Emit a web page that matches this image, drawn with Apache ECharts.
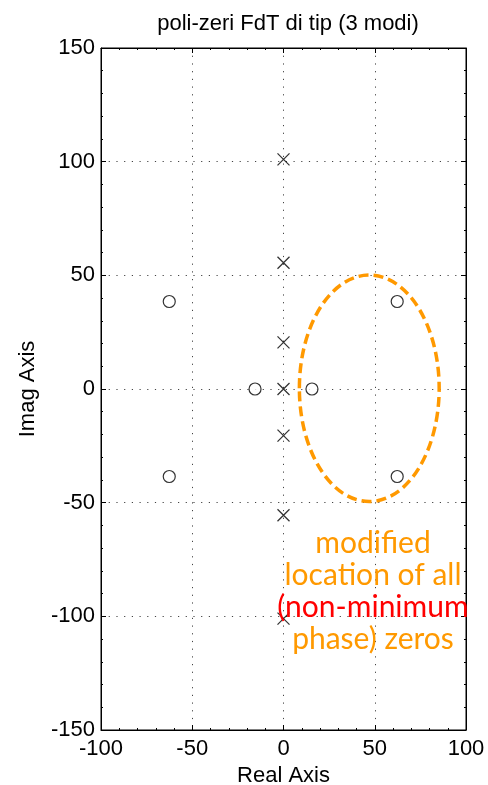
<!DOCTYPE html>
<html>
<head>
<meta charset="utf-8">
<script src="https://cdn.jsdelivr.net/npm/echarts@6/dist/echarts.min.js"></script>
<style>
  html, body { margin: 0; padding: 0; background: #fff; }
  #chart { width: 488px; height: 785px; }
</style>
</head>
<body>
<div id="chart"></div>
<script>
// poles (x) and zeros (o) in the complex plane
const poleRe = [0, 0, 0, 0, 0, 0, 0];
const poleIm = [101, 55.5, 20.5, 0, -20.5, -55.5, -101];
const zeroRe = [-62.6, -62.6, -15.6, 15.6, 62.3, 62.3];
const zeroIm = [38.5, -38.5, 0, 0, 38.5, -38.5];

// dashed ellipse round the modified zeros: [centre, radius]
const ellipseRe = [47, 38.3];
const ellipseIm = [0.3, 49.8];

const xRange = [-100, 100, 50];
const yRange = [-150, 150, 50];

const titleText = 'poli-zeri FdT di tip (3 modi)';
const noteLines = ['modified', 'location of all', '(non-minimum', 'phase) zeros'];
const noteColors = ['#ff9900', '#ff9900', '#ff0000', '#ff9900'];

const chart = echarts.init(document.getElementById('chart'));

const font = 'Liberation Sans, Arial, Helvetica, sans-serif';
const tickLabel = { fontFamily: font, fontSize: 22, color: '#000' };
const nameStyle = { fontFamily: font, fontSize: 22, color: '#000' };

const grid = {
    left: 101, right: 22, top: 48, bottom: 55,
    outerBoundsMode: 'none',
    show: true, borderColor: '#000', borderWidth: 1
};

const splitDots = { show: true, lineStyle: { color: '#444', type: [1.2, 6.5], width: 1 } };

const makeAxis = (range, pos, main) => ({
    type: 'value',
    position: pos,
    min: range[0],
    max: range[1],
    interval: range[2],
    axisLine: { show: true, onZero: false, lineStyle: { color: '#000', width: 1 } },
    axisTick: { show: true, inside: true, length: 5, lineStyle: { color: '#000' } },
    minorTick: { show: true, splitNumber: 5, length: 2, lineStyle: { color: '#000' } },
    splitLine: main ? splitDots : { show: false },
    axisLabel: main ? Object.assign({ margin: 6 }, tickLabel) : { show: false }
});

const xMain = makeAxis(xRange, 'bottom', true);
xMain.name = 'Real Axis';
xMain.nameLocation = 'middle';
xMain.nameGap = 34;
xMain.nameTextStyle = nameStyle;
xMain.axisLabel.margin = 8;

const yMain = makeAxis(yRange, 'left', true);
yMain.name = 'Imag Axis';
yMain.nameLocation = 'middle';
yMain.nameGap = 62;
yMain.nameTextStyle = nameStyle;

const crossPath = 'path://M0,0L10,10M10,0L0,10';

const option = {
    backgroundColor: '#fff',
    animation: false,
    title: {
        text: titleText,
        left: 283,
        textAlign: 'center',
        top: 8,
        textStyle: { fontFamily: font, fontSize: 22, fontWeight: 'normal', color: '#000' }
    },
    grid: grid,
    xAxis: [xMain, makeAxis(xRange, 'top', false)],
    yAxis: [yMain, makeAxis(yRange, 'right', false)],
    series: [
        {
            type: 'custom',
            z: 3,
            renderItem: (params, api) => {
                const c = api.coord([ellipseRe[0], ellipseIm[0]]);
                const ex = api.coord([ellipseRe[0] + ellipseRe[1], ellipseIm[0]]);
                const ey = api.coord([ellipseRe[0], ellipseIm[0] + ellipseIm[1]]);
                return {
                    type: 'ellipse',
                    shape: { cx: c[0], cy: c[1], rx: Math.abs(ex[0] - c[0]), ry: Math.abs(ey[1] - c[1]) },
                    style: { fill: 'none', stroke: '#ff9900', lineWidth: 3.5, lineDash: [10, 5] }
                };
            },
            data: [[ellipseRe[0], ellipseIm[0]]]
        },
        {
            type: 'scatter',
            name: 'poles',
            symbol: crossPath,
            symbolSize: 12,
            itemStyle: { color: 'transparent', borderColor: '#000', borderWidth: 1.3 },
            data: poleRe.map((r, i) => [r, poleIm[i]])
        },
        {
            type: 'scatter',
            name: 'zeros',
            symbol: 'circle',
            symbolSize: 12,
            itemStyle: { color: '#fff', borderColor: '#000', borderWidth: 1.2 },
            data: zeroRe.map((r, i) => [r, zeroIm[i]])
        }
    ],
    graphic: noteLines.map((t, i) => ({
        type: 'text',
        x: 373,
        y: 543 + i * 32,
        z: 10,
        style: {
            text: t,
            fill: noteColors[i],
            font: '30px Lato, "Open Sans", sans-serif',
            textAlign: 'center',
            textVerticalAlign: 'middle'
        }
    }))
};

chart.setOption(option);
</script>
</body>
</html>
